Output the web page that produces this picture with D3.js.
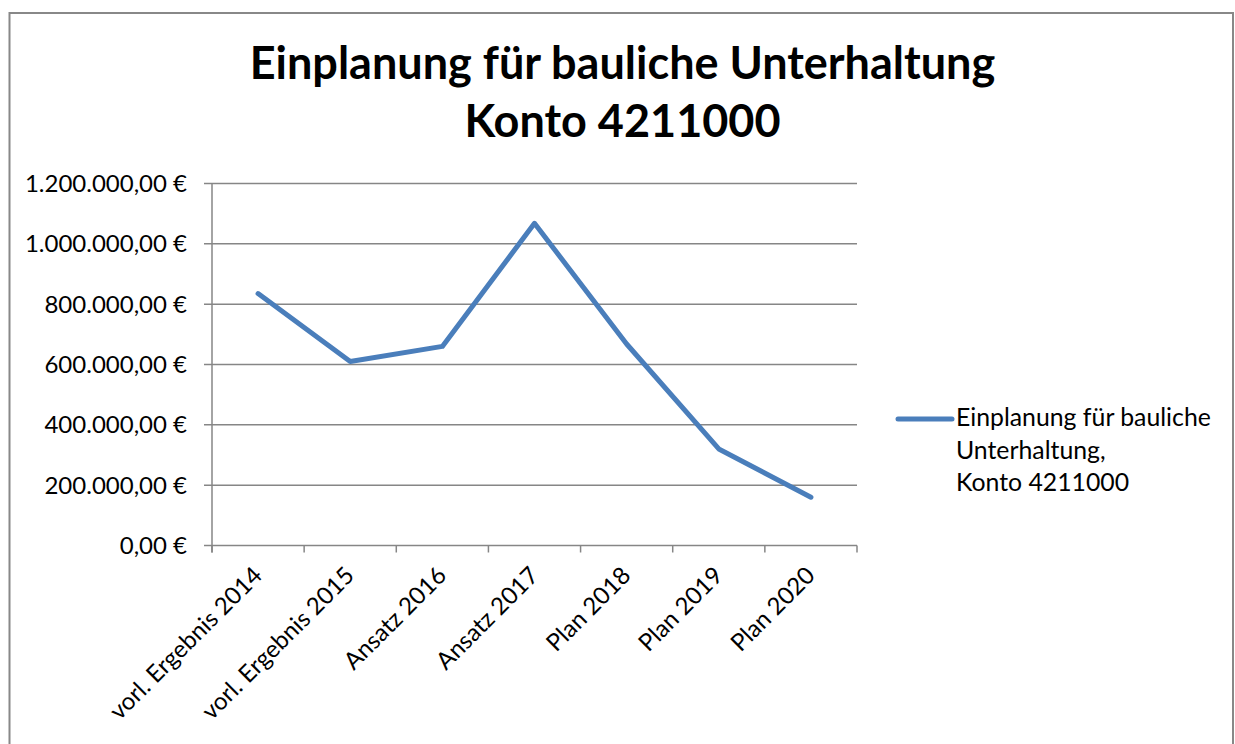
<!DOCTYPE html>
<html>
<head>
<meta charset="utf-8">
<script src="https://cdn.jsdelivr.net/npm/d3@7"></script>
<style>
body { margin: 0; background: #fff; }
svg { display: block; font-family: Lato, "Liberation Sans", sans-serif; }
</style>
</head>
<body>
<svg id="chart" width="1235" height="744"></svg>
<script>
var categories = ["vorl. Ergebnis 2014", "vorl. Ergebnis 2015", "Ansatz 2016", "Ansatz 2017", "Plan 2018", "Plan 2019", "Plan 2020"];
var values = [835000, 610000, 660000, 1068000, 668000, 320000, 160000];
var yTicks = [0, 200000, 400000, 600000, 800000, 1000000, 1200000];
var titleLines = ["Einplanung für bauliche Unterhaltung", "Konto 4211000"];
var legendLines = ["Einplanung für bauliche", "Unterhaltung,", "Konto 4211000"];

var svg = d3.select("#chart");
var margin = {top: 183.5, left: 212, right: 857, bottom: 545.5};//plot area edges
var lineColor = "#4a7ebb";
var gridColor = "#868686";

//german currency format, e.g. 1.200.000,00 €
var de = d3.formatLocale({decimal: ",", thousands: ".", grouping: [3], currency: ["", " €"]});
var fmt = de.format("$,.2f");

//outer border of the chart
svg.append("rect")
.attr("x", 9.5)
.attr("y", 13)
.attr("width", 1223.5)
.attr("height", 760)
.attr("fill", "none")
.attr("stroke", "#888")
.attr("stroke-width", 2);

//title
svg.append("g")
.selectAll("text")
.data(titleLines)
.enter().append("text")
.attr("x", 622.5)
.attr("y", function(d, i) { return 79 + i * 58; })
.attr("text-anchor", "middle")
.attr("font-weight", "bold")
.attr("font-size", 45)
.attr("fill", "#000")
.text(function(d) { return d; });

var x = d3.scaleBand()
.domain(categories)
.range([margin.left, margin.right]);

var y = d3.scaleLinear()
.domain([0, 1200000])
.range([margin.bottom, margin.top]);

//horizontal gridlines (with the small tick to the left)
svg.append("g")
.selectAll("line")
.data(yTicks)
.enter().append("line")
.attr("x1", margin.left - 8)
.attr("x2", margin.right)
.attr("y1", function(d) { return y(d); })
.attr("y2", function(d) { return y(d); })
.attr("stroke", gridColor)
.attr("stroke-width", 1.5);

//y axis line
svg.append("line")
.attr("x1", margin.left).attr("x2", margin.left)
.attr("y1", margin.top).attr("y2", margin.bottom + 7)
.attr("stroke", gridColor)
.attr("stroke-width", 1.5);

//y tick labels
svg.append("g")
.selectAll("text")
.data(yTicks)
.enter().append("text")
.attr("x", 187)
.attr("y", function(d) { return y(d); })
.attr("dy", "0.36em")
.attr("text-anchor", "end")
.attr("font-size", 24)
.attr("fill", "#000")
.text(function(d) { return fmt(d); });

//x axis with outside ticks between categories
var xTickPos = categories.map(function(d) { return x(d); }).concat([margin.right]);
svg.append("g")
.selectAll("line")
.data(xTickPos)
.enter().append("line")
.attr("x1", function(d) { return d; })
.attr("x2", function(d) { return d; })
.attr("y1", margin.bottom)
.attr("y2", margin.bottom + 7)
.attr("stroke", gridColor)
.attr("stroke-width", 1.5);

//rotated category labels
svg.append("g")
.selectAll("text")
.data(categories)
.enter().append("text")
.attr("transform", function(d) { return "translate(" + (x(d) + x.bandwidth() / 2 + 5.5) + "," + 577 + ") rotate(-45)"; })
.attr("text-anchor", "end")
.attr("font-size", 24)
.attr("fill", "#000")
.text(function(d) { return d; });

//the series line
var line = d3.line()
.x(function(d, i) { return x(categories[i]) + x.bandwidth() / 2; })
.y(function(d) { return y(d); });

svg.append("path")
.datum(values)
.attr("d", line)
.attr("fill", "none")
.attr("stroke", lineColor)
.attr("stroke-width", 5)
.attr("stroke-linejoin", "round")
.attr("stroke-linecap", "round");

//legend
svg.append("line")
.attr("x1", 898).attr("x2", 952)
.attr("y1", 419).attr("y2", 419)
.attr("stroke", lineColor)
.attr("stroke-width", 5)
.attr("stroke-linecap", "round");

svg.append("g")
.selectAll("text")
.data(legendLines)
.enter().append("text")
.attr("x", 956)
.attr("y", function(d, i) { return 426 + i * 32.5; })
.attr("font-size", 24.8)
.attr("fill", "#000")
.text(function(d) { return d; });
</script>
</body>
</html>
